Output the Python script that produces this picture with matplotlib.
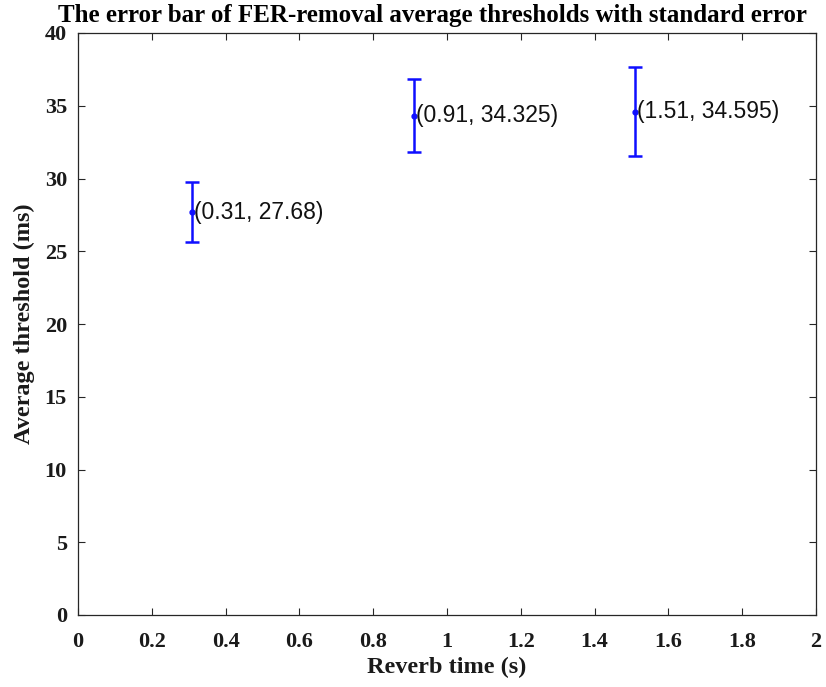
import matplotlib
matplotlib.use("Agg")
import matplotlib.pyplot as plt

# Reverb times and FER-removal average thresholds with standard errors
reverb_time = [0.31, 0.91, 1.51]
avg_threshold = [27.68, 34.325, 34.595]
std_error = [2.05, 2.48, 3.05]

xticks = [0, 0.2, 0.4, 0.6, 0.8, 1, 1.2, 1.4, 1.6, 1.8, 2]
xtick_labels = ["0", "0.2", "0.4", "0.6", "0.8", "1", "1.2", "1.4", "1.6", "1.8", "2"]
yticks = [0, 5, 10, 15, 20, 25, 30, 35, 40]

serif = ["Liberation Serif", "DejaVu Serif"]
sans = ["Liberation Sans", "DejaVu Sans"]

W, H = 826, 687
fig = plt.figure(figsize=(W / 100, H / 100), dpi=100)
ax = fig.add_axes([78 / W, 1 - 615 / H, (816 - 78) / W, (615 - 33) / H])

ax.errorbar(reverb_time, avg_threshold, yerr=std_error, fmt="o", color="#0f0fff",
            markersize=3.5, elinewidth=1.8, capsize=5, capthick=1.8)

for x, y in zip(reverb_time, avg_threshold):
    ax.annotate(f"({x:g}, {y:g})", (x, y), xytext=(1.5, 0), textcoords="offset points",
                ha="left", va="center", fontsize=16.5, family=sans, color="#111111")

ax.set_xlim(0, 2)
ax.set_ylim(0, 40)
ax.set_xticks(xticks)
ax.set_xticklabels(xtick_labels)
ax.set_yticks(yticks)

edge = "#262626"
for s in ax.spines.values():
    s.set_color(edge)
    s.set_linewidth(0.9)
ax.tick_params(direction="in", length=5, width=0.8, color=edge, top=True, right=True,
               labelsize=16)
ax.tick_params(axis="x", pad=12)
ax.tick_params(axis="y", pad=8)
for lab in ax.get_xticklabels() + ax.get_yticklabels():
    lab.set_family(serif)
    lab.set_fontweight("bold")
    lab.set_color("#1a1a1a")

ax.set_xlabel("Reverb time (s)", family=serif, fontweight="bold", fontsize=17.5,
              labelpad=4, color="#1a1a1a")
ax.set_ylabel("Average threshold (ms)", family=serif, fontweight="bold", fontsize=17.5,
              labelpad=7, color="#1a1a1a")
fig.text(432 / W, 1 - 22 / H,
         "The error bar of FER-removal average thresholds with standard error",
         family=serif, fontweight="bold", fontsize=18, ha="center", va="baseline",
         color="black")

fig.savefig("out.png", dpi=100)
